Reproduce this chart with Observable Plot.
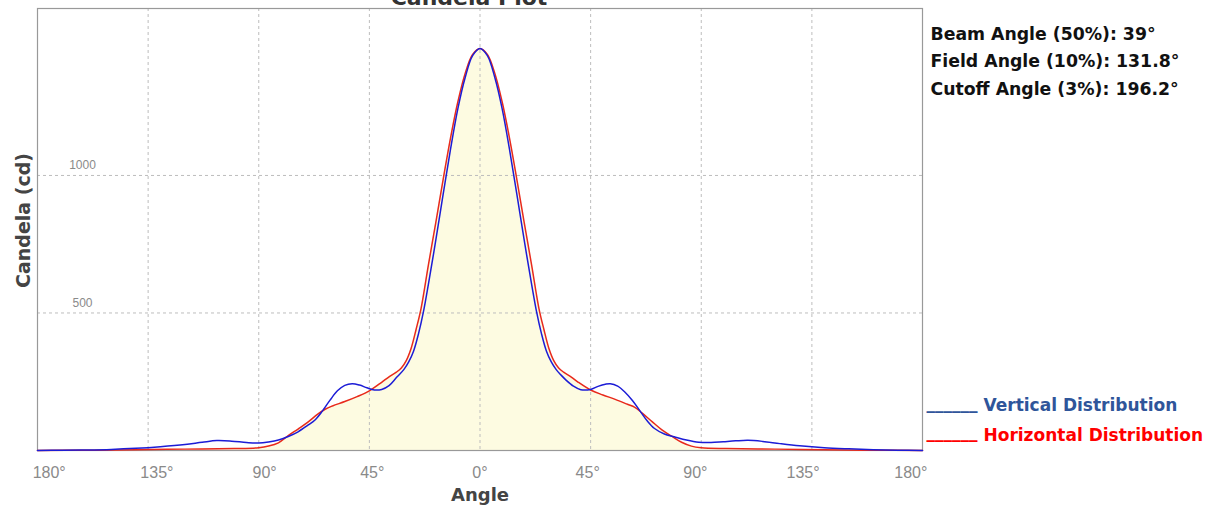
<!DOCTYPE html>
<html><head><meta charset="utf-8">
<script src="https://cdn.jsdelivr.net/npm/d3@7"></script>
<script src="https://cdn.jsdelivr.net/npm/@observablehq/plot@0.6"></script>
<style>body{margin:0;background:#fff;} #chart svg{display:block;}</style>
</head><body><div id="chart"></div>
<script>
// Horizontal distribution (red, filled)
const hAngles = [-180,-160,-140,-120,-100,-90,-86,-82,-78,-74,-70,-66,-63,-60,-55,-50,-45,-40,-37,-34,-32,-30,-28,-26,-24,-21,-18,-15,-12,-9,-6,-3,0,3,6,9,12,15,18,21,24,26,28,30,32,34,37,40,45,50,55,60,63,66,70,74,78,82,86,90,100,120,140,160,180];
const hValues = [0,1,3,5,7,10,16,28,54,78,103,132,150,162,178,196,217,248,268,285,300,327,372,440,515,674,828,985,1136,1268,1372,1440,1462,1440,1372,1268,1136,985,828,674,515,440,372,327,300,285,268,248,220,202,186,168,157,136,105,75,52,30,16,10,7,5,3,1,0];
// Vertical distribution (blue)
const vAngles = [-180,-170,-160,-150,-140,-130,-120,-113,-107,-101,-95,-90,-86,-82,-78,-74,-70,-67,-64,-61,-58,-55,-52,-49,-46,-43,-40,-37,-34,-31,-29,-27,-25,-23,-21,-18,-15,-12,-9,-6,-3,0,3,6,9,12,15,18,21,23,25,27,29,31,33,35,38,41,45,48,51,53,56,59,62,65,68,71,75,79,84,89,94,99,104,109,115,122,130,140,150,160,170,180];
const vValues = [0,1,2,4,8,14,22,30,36,34,29,27,31,38,51,68,92,112,145,183,217,237,243,238,228,220,222,236,265,294,322,362,425,505,604,764,931,1095,1243,1357,1436,1462,1436,1357,1243,1095,931,764,604,505,425,362,322,294,274,256,234,221,222,233,241,243,234,212,182,145,108,80,60,50,38,30,29,32,35,37,33,25,17,10,6,3,1,0];

const xTicks = [-180,-135,-90,-45,0,45,90,135,180];
const xTickLabels = ["180°","135°","90°","45°","0°","45°","90°","135°","180°"];
const yTicks = [500,1000];
const yTickLabels = ["500","1000"];
const gridX = [-135,-90,-45,0,45,90,135];
const titleText = "Candela Plot";
const xLabel = "Angle";
const yLabel = "Candela (cd)";
const annotations = ["Beam Angle (50%): 39°","Field Angle (10%): 131.8°","Cutoff Angle (3%): 196.2°"];
const seriesNames = ["Vertical Distribution","Horizontal Distribution"];
const seriesColors = ["#2f559a","#ff0000"];

const hData = hAngles.map((a,i)=>({a, v:hValues[i]}));
const vData = vAngles.map((a,i)=>({a, v:vValues[i]}));
const xTickData = xTicks.map((t,i)=>({t, label:xTickLabels[i]}));
const yTickData = yTicks.map((t,i)=>({t, label:yTickLabels[i]}));
const boldFont = "DejaVu Sans, sans-serif";
const grid = {stroke:"#bdbdbd", strokeDasharray:"3,3", strokeWidth:1};

const annMarks = annotations.map((s,i)=>Plot.text([s], {frameAnchor:"top-right", textAnchor:"start", lineAnchor:"bottom", dx:8, dy:[31,58,86][i], fontSize:17.3, fontWeight:"bold", fontFamily:boldFont, fill:"#111"}));
const legMarks = [];
seriesNames.forEach((s,i)=>{
  const base = [-39.3,-10][i];
  legMarks.push(Plot.text(["______"], {frameAnchor:"bottom-right", textAnchor:"start", lineAnchor:"bottom", dx:4, dy:base-2.3, fontSize:17, fontWeight:"bold", fontFamily:boldFont, fill:seriesColors[i]}));
  legMarks.push(Plot.text([s], {frameAnchor:"bottom-right", textAnchor:"start", lineAnchor:"bottom", dx:61, dy:base, fontSize:17, fontWeight:"bold", fontFamily:boldFont, fill:seriesColors[i]}));
});

const chart = Plot.plot({
  width:1210, height:508,
  marginLeft:37, marginRight:288, marginTop:8, marginBottom:58,
  x:{domain:[-180,180], axis:null},
  y:{domain:[0,1607], axis:null},
  style:{fontFamily:"Liberation Sans, Arial, sans-serif", background:"#fff"},
  marks:[
    Plot.areaY(hData, {x:"a", y:"v", fill:"#fdfbe1", curve:"catmull-rom"}),
    Plot.ruleX(gridX, grid),
    Plot.ruleY(yTicks, grid),
    Plot.frame({stroke:"#999", strokeWidth:1.2}),
    Plot.line(hData, {x:"a", y:"v", stroke:"#e8291c", strokeWidth:1.5, curve:"catmull-rom"}),
    Plot.line(vData, {x:"a", y:"v", stroke:"#1c1cd6", strokeWidth:1.5, curve:"catmull-rom"}),
    Plot.text(xTickData, {x:d=>d.t*0.9735, frameAnchor:"bottom", textAnchor:"middle", lineAnchor:"bottom", dy:27, text:"label", fill:"#8a8a8a", fontSize:16}),
    Plot.text(yTickData, {y:"t", frameAnchor:"left", textAnchor:"middle", lineAnchor:"bottom", dx:45, dy:-6, text:"label", fill:"#8a8a8a", fontSize:12}),
    Plot.text([xLabel], {frameAnchor:"bottom", textAnchor:"middle", lineAnchor:"bottom", dy:50, fontSize:18, fontWeight:"bold", fontFamily:boldFont, fill:"#444"}),
    Plot.text([yLabel], {frameAnchor:"left", textAnchor:"middle", lineAnchor:"bottom", rotate:-90, dx:-7.5, dy:-9, fontSize:19, fontWeight:"bold", fontFamily:boldFont, fill:"#444"}),
    Plot.text([titleText], {frameAnchor:"top", textAnchor:"middle", lineAnchor:"bottom", dx:-11, dy:-4, fontSize:22, fontWeight:"bold", fontFamily:boldFont, fill:"#333"}),
    ...annMarks,
    ...legMarks
  ]
});
document.getElementById("chart").appendChild(chart);
</script>
</body></html>
